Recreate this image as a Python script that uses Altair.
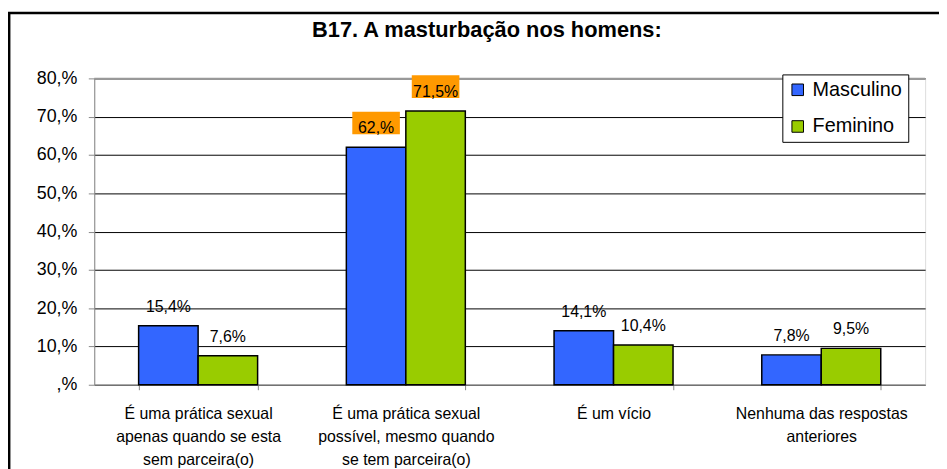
import altair as alt
import pandas as pd

# ---- data ----
categories = [
    "É uma prática sexual|apenas quando se esta|sem parceira(o)",
    "É uma prática sexual|possível, mesmo quando|se tem parceira(o)",
    "É um vício",
    "Nenhuma das respostas|anteriores",
]
series = ["Masculino", "Feminino"]
masculino = [15.4, 62.0, 14.1, 7.8]
feminino = [7.6, 71.5, 10.4, 9.5]
masculino_labels = ["15,4%", "62,%", "14,1%", "7,8%"]
feminino_labels = ["7,6%", "71,5%", "10,4%", "9,5%"]
highlighted = [False, True, False, False]
y_ticks = [0, 10, 20, 30, 40, 50, 60, 70, 80]
title_text = "B17. A masturbação nos homens:"

colors = ["#3366FF", "#99CC00"]
FONT = "Liberation Sans"

rows = []
for i, cat in enumerate(categories):
    for s, vals, labs in ((series[0], masculino, masculino_labels),
                          (series[1], feminino, feminino_labels)):
        rows.append({"categoria": cat, "serie": s, "valor": vals[i],
                     "rotulo": labs[i], "destaque": highlighted[i]})
df = pd.DataFrame(rows)

x_axis = alt.Axis(
    title=None,
    labelExpr="split(datum.label, '|')",
    labelAngle=0,
    labelFontSize=16,
    labelLineHeight=23,
    labelPadding=16,
    labelBaseline="top",
    tickBand="extent",
    tickSize=5,
    grid=False,
    labelLimit=300,
)
y_axis = alt.Axis(
    title=None,
    values=y_ticks,
    labelExpr="datum.value == 0 ? ',%' : datum.value + ',%'",
    labelFontSize=18,
    labelPadding=11.5,
    labelOverlap=False,
    tickSize=6,
    grid=True,
    gridColor="black",
    gridWidth=1,
)
x_scale = alt.Scale(paddingInner=0.4272, paddingOuter=0.2136)
y_scale = alt.Scale(domain=[0, 80], nice=False, zero=True)


def xe():
    return alt.X("categoria:N", sort=categories, scale=x_scale, axis=x_axis)


def xo():
    return alt.XOffset("serie:N", sort=series,
                       scale=alt.Scale(paddingInner=0, paddingOuter=0))


bars = alt.Chart(df).mark_bar(stroke="black", strokeWidth=1.5).encode(
    x=xe(),
    xOffset=xo(),
    y=alt.Y("valor:Q", scale=y_scale, axis=y_axis),
    color=alt.Color(
        "serie:N",
        sort=series,
        scale=alt.Scale(domain=series, range=colors),
        legend=alt.Legend(
            title=None,
            orient="none",
            legendX=694,
            legendY=-4,
            symbolType="square",
            symbolSize=136,
            symbolStrokeColor="black",
            symbolStrokeWidth=1,
            labelFontSize=20,
            labelFont=FONT,
            labelColor="black",
            labelOffset=5,
            strokeColor="black",
            fillColor="white",
            padding=5.5,
            rowPadding=17,
        ),
    ),
)

boxes = alt.Chart(df).transform_filter("datum.destaque").transform_calculate(
    lo="datum.valor + 3.4", hi="datum.valor + 9.3"
).mark_bar(width=48, color="#FF9900").encode(
    x=xe(),
    xOffset=xo(),
    y=alt.Y("lo:Q", scale=y_scale, axis=y_axis),
    y2="hi:Q",
)

labels = alt.Chart(df).mark_text(
    dy=-14, baseline="alphabetic", fontSize=16, font=FONT, color="black"
).encode(
    x=xe(),
    xOffset=xo(),
    y=alt.Y("valor:Q", scale=y_scale, axis=y_axis),
    text="rotulo:N",
)

title = alt.Chart(pd.DataFrame({"t": [title_text]})).mark_text(
    fontSize=22, fontWeight="bold", font=FONT, color="black",
    align="center", baseline="alphabetic",
).encode(x=alt.value(396), y=alt.value(-42), text="t:N")

# gray top border of the plot area (drawn over the 80% gridline)
top_border = alt.Chart(pd.DataFrame({"f": [0]})).mark_rule(
    color="#999999", strokeWidth=1.5
).encode(x=alt.value(0), x2=alt.value(838), y=alt.value(0))

frame = alt.Chart(pd.DataFrame({"f": [0]})).mark_rect(
    fillOpacity=0, stroke="black", strokeWidth=2.5
).encode(x=alt.value(-85.8), x2=alt.value(900), y=alt.value(-66), y2=alt.value(430))

chart = alt.layer(frame, bars, top_border, boxes, labels, title).properties(
    width=838,
    height=309,
    autosize=alt.AutoSizeParams(type="none"),
    padding={"left": 87, "top": 69, "right": 14, "bottom": 85},
).configure_view(
    stroke="#999999", strokeWidth=1
).configure_axis(
    domainColor="black", tickColor="black", labelColor="black", labelFont=FONT,
    domainWidth=1, tickWidth=1,
).configure(background="white")

chart.save("out.html", embed_options={"renderer": "svg", "actions": False})
